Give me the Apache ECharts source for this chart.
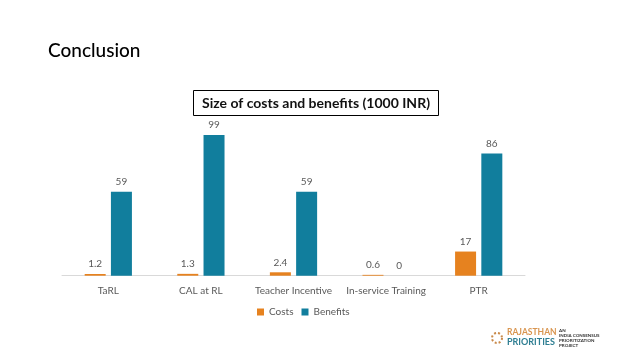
<!DOCTYPE html>
<html><head><meta charset="utf-8">
<script src="https://cdn.jsdelivr.net/npm/echarts@6/dist/echarts.min.js"></script>
<style>html,body{margin:0;padding:0;background:#fff}#c{width:638px;height:359px}</style>
</head><body><div id="c"></div>
<script>
const categories = ['TaRL', 'CAL at RL', 'Teacher Incentive', 'In-service Training', 'PTR'];
const costs = [1.2, 1.3, 2.4, 0.6, 17];
const benefits = [59, 99, 59, 0, 86];
const seriesNames = ['Costs', 'Benefits'];

const chart = echarts.init(document.getElementById('c'));
const font = 'Lato, "Open Sans", sans-serif';
const lbl = {show: true, position: 'top', color: '#595959', fontSize: 10, fontFamily: font, distance: 5};
chart.setOption({
  animation: false,
  backgroundColor: '#fff',
  textStyle: {fontFamily: font},
  grid: {left: 62, right: 113, top: 119.4, bottom: 83.3, containLabel: false},
  legend: {
    data: seriesNames, left: 252, top: 302, itemWidth: 7, itemHeight: 7, itemGap: 8,
    icon: 'rect', textStyle: {color: '#595959', fontSize: 10, fontFamily: font}
  },
  xAxis: {
    type: 'category', data: categories,
    axisLine: {lineStyle: {color: '#D9D9D9'}}, axisTick: {show: false},
    axisLabel: {color: '#595959', fontSize: 10, fontFamily: font, margin: 10, interval: 0}
  },
  yAxis: {type: 'value', min: 0, max: 110, show: false, splitLine: {show: false}},
  series: [
    {name: seriesNames[0], type: 'bar', data: costs, barWidth: 21, barGap: '25%',
     itemStyle: {color: '#E6821F'}, label: lbl},
    {name: seriesNames[1], type: 'bar', data: benefits, barWidth: 21,
     itemStyle: {color: '#117E9D'}, label: lbl}
  ],
  graphic: [
    {type: 'text', left: 48, top: 41, style: {text: 'Conclusion', fontSize: 19, fontWeight: 500, fontFamily: font, fill: '#000'}},
    {type: 'rect', shape: {x: 193.5, y: 90.5, width: 245, height: 25}, style: {fill: 'none', stroke: '#000', lineWidth: 1}},
    {type: 'text', x: 316, y: 103, style: {text: 'Size of costs and benefits (1000 INR)', fontSize: 14, fontWeight: 'bold', fontFamily: font, fill: '#111', align: 'center', verticalAlign: 'middle'}},
    {type: 'circle', shape: {cx: 497, cy: 338, r: 5}, style: {fill: 'none', stroke: '#C98A4B', lineWidth: 2, lineDash: [2, 2]}},
    {type: 'text', x: 507, y: 328, style: {text: 'RAJASTHAN', fontSize: 8.5, fontWeight: 'bold', fontFamily: font, fill: '#D9954F'}},
    {type: 'text', x: 507, y: 338, style: {text: 'PRIORITIES', fontSize: 9, fontWeight: 'bold', fontFamily: font, fill: '#2E7E92'}},
    {type: 'text', x: 559, y: 328, style: {text: 'AN\nINDIA CONSENSUS\nPRIORITIZATION\nPROJECT', fontSize: 4.5, lineHeight: 5, fontWeight: 'bold', fontFamily: font, fill: '#333'}}
  ]
});
</script></body></html>
